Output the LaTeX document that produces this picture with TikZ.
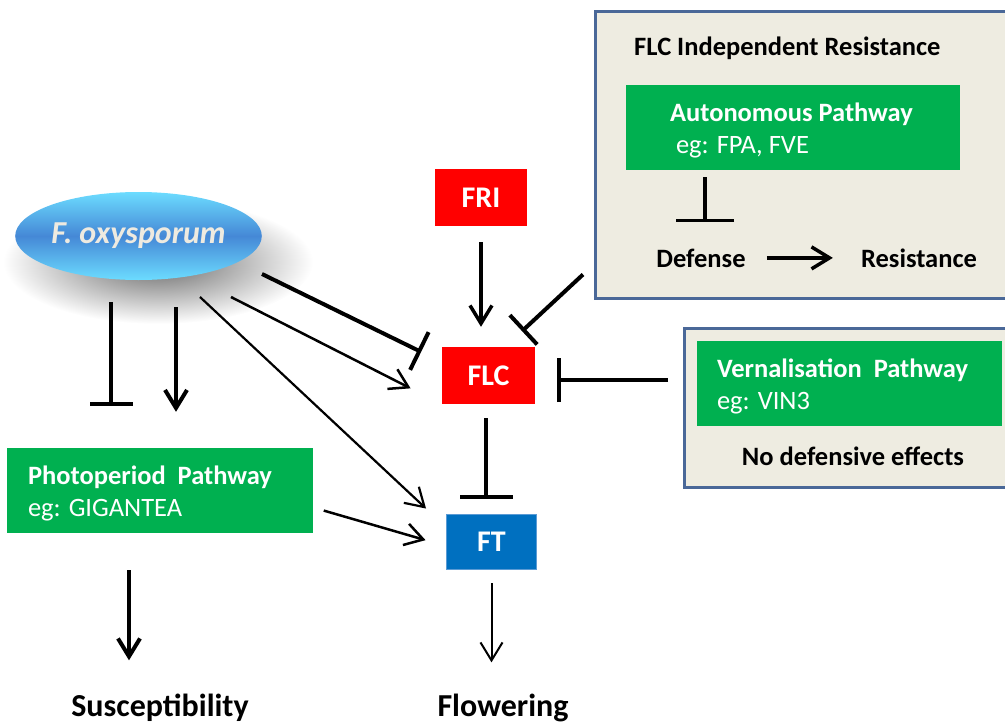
\documentclass[tikz,border=0pt]{standalone}
\usepackage{fontspec}
\setmainfont{Carlito}
\usetikzlibrary{arrows.meta,positioning,shapes.geometric}

\definecolor{pathgreen}{HTML}{00B050}
\definecolor{genered}{HTML}{FF0000}
\definecolor{ftblue}{HTML}{0070C0}
\definecolor{ftedge}{HTML}{5B9BD5}
\definecolor{panelfill}{HTML}{EEECE1}
\definecolor{paneledge}{HTML}{4A6898}
\definecolor{foxdark}{HTML}{4588D6}
\definecolor{foxlight}{HTML}{6CDCFF}
\definecolor{foxtext}{HTML}{EEEAE0}

\tikzset{
  lbl/.style={font=\fontsize{26.5}{32}\selectfont\bfseries, inner sep=0pt},
  biglbl/.style={font=\fontsize{32}{38}\selectfont\bfseries, inner sep=0pt},
  gene/.style={rectangle, minimum height=57pt, text=white, font=\fontsize{30}{34}\selectfont\bfseries},
  pathbox/.style={rectangle, fill=pathgreen, minimum height=85pt},
  pathtxt/.style={text=white, align=left, inner sep=0pt, yshift=-3pt, font=\fontsize{26.5}{32}\selectfont},
  panel/.style={rectangle, fill=panelfill, draw=paneledge, line width=2.5pt, anchor=north west},
  act/.style={line width=#1, -{Straight Barb[length=18pt,width=22pt]}}, act/.default=4pt,
  inh/.style={line width=4pt, -{Bar[width=#1]}}, inh/.default=44pt,
}

\begin{document}
\begin{tikzpicture}[x=1pt,y=-1pt]
\useasboundingbox (0,0) rectangle (1005,723);
\shade[inner color=black!60, outer color=white] (158,262) ellipse (155 and 62);
\node[panel, minimum width=420pt, minimum height=287pt] (indep) at (594,10) {};
\node[panel, minimum width=330pt, minimum height=159pt] (vpanel) at (683,327) {};

\node[ellipse, minimum width=243pt, minimum height=88pt, inner sep=0pt, top color=foxlight, bottom color=foxlight, middle color=foxdark, text=foxtext, font=\fontsize{32}{38}\selectfont\bfseries\itshape] (fox) at (138.5,236) {F. oxysporum};

\node[gene, fill=genered, minimum width=92pt] (fri) at (481,197.5) {FRI};
\node[gene, fill=genered, minimum width=93pt] (flc) at (488.5,375.5) {FLC};
\node[gene, fill=ftblue, draw=ftedge, line width=1.5pt, minimum width=90pt, minimum height=55pt] (ft) at (491.5,542) {FT};

\node[pathbox, minimum width=306pt] (photo) at (160,490.5) {};
\node[pathbox, minimum width=334pt] (auto) at (793,127.5) {};
\node[pathbox, minimum width=305pt] (vern) at (849.5,383.5) {};
\node[pathtxt, right=21pt of photo.west] (photoT) {\textbf{Photoperiod\ \ Pathway}\\eg: GIGANTEA};
\node[pathtxt, right=44pt of auto.west] (autoT) {\textbf{Autonomous Pathway}\\\hspace*{6pt}eg: FPA, FVE};
\node[pathtxt, right=20pt of vern.west] (vernT) {\textbf{Vernalisation\ \ Pathway}\\eg: VIN3};

\node[lbl, anchor=base west] (indepT) at (634,55) {FLC Independent Resistance};
\node[lbl, anchor=base] (defense) at (701,267) {Defense};
\node[lbl, anchor=base] (resist) at (919,267) {Resistance};
\node[lbl, anchor=base] (nodef) at (853,465) {No defensive effects};
\node[biglbl, anchor=base] (susc) at (160,716) {Susceptibility};
\node[biglbl, anchor=base] (flower) at (503,716) {Flowering};

\coordinate (foxA) at (262,274);
\coordinate (foxB) at (231,297);
\coordinate (foxC) at (200,297);
\coordinate (photoI) at ([xshift=-49pt]photo.north);
\coordinate (photoA) at ([xshift=16pt]photo.north);
\coordinate (photoS) at ([xshift=-31pt]photo.south);
\coordinate (vernI) at ([yshift=-4.5pt]flc.east);
\coordinate (defT) at ([xshift=4pt]defense.north);

\draw[inh=43pt, shorten <=22pt, shorten >=42pt] (fox.south -| photoI) -- (photoI);
\draw[act, shorten <=27pt, shorten >=36pt] (fox.south -| photoA) -- (photoA);
\draw[inh=42pt, shorten >=23pt] (foxA) -- ([yshift=13.5pt]flc.west);
\draw[act=2.5pt, shorten >=35pt] (foxB) -- (flc.south west);
\draw[act=2.2pt, shorten >=27pt] (foxC) -- ([yshift=15pt]ft.west);
\draw[act=2.5pt, shorten <=11pt, shorten >=21pt] ([yshift=-17pt]photo.east) -- ([yshift=-4pt]ft.west);
\draw[act, shorten <=37pt, shorten >=33pt] (photoS) -- (photoS |- susc.north);
\draw[act=3.5pt, shorten <=16pt, shorten >=20pt] (fri.south) -- (fri.south |- flc.north);
\draw[inh=40pt, shorten >=23pt] ([xshift=-11pt,yshift=25pt]indep.south west) -- ([xshift=-30pt]flc.north east);
\draw[inh, shorten <=15pt, shorten >=22pt] (vernI -| vpanel.west) -- (vernI);
\draw[inh=53pt, shorten <=14pt, shorten >=15pt] ([xshift=-2.5pt]flc.south) -- ([xshift=-2.5pt]flc.south |- ft.north);
\draw[act=2pt, shorten <=13pt, shorten >=31pt] (ft.south) -- (ft.south |- flower.north);
\draw[inh=58pt, line width=3.5pt, shorten <=7pt, shorten >=26pt] (defT |- auto.south) -- (defT);
\draw[act=3.5pt, shorten <=21pt, shorten >=28pt] (defense.east) -- (defense.east -| resist.west);
\end{tikzpicture}
\end{document}
